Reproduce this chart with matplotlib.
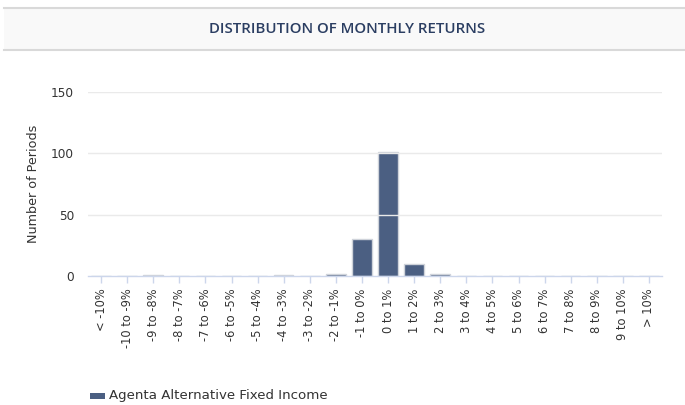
import matplotlib
matplotlib.use("Agg")
import matplotlib.pyplot as plt
from matplotlib.patches import Rectangle

categories = ["< -10%", "-10 to -9%", "-9 to -8%", "-8 to -7%", "-7 to -6%", "-6 to -5%",
              "-5 to -4%", "-4 to -3%", "-3 to -2%", "-2 to -1%", "-1 to 0%", "0 to 1%",
              "1 to 2%", "2 to 3%", "3 to 4%", "4 to 5%", "5 to 6%", "6 to 7%", "7 to 8%",
              "8 to 9%", "9 to 10%", "> 10%"]
values = [0, 0, 1, 0, 0, 0, 0, 1, 0, 2, 30, 101, 10, 2, 0, 0, 0, 0, 0, 0, 0, 0]
series_name = "Agenta Alternative Fixed Income"
yticks = [0, 50, 100, 150]

W, H = 685, 405
fig = plt.figure(figsize=(W / 100, H / 100), dpi=100)
fig.patch.set_facecolor("white")

# title band
band = Rectangle((4 / W, 1 - 50 / H), 1 - 4 / W, 42 / H, transform=fig.transFigure,
                 facecolor="#f9f9f9", edgecolor="none")
fig.add_artist(band)
for yy in (8, 50):
    fig.add_artist(plt.Line2D([4 / W, 1], [1 - yy / H] * 2, transform=fig.transFigure,
                              color="#d9d9d9", lw=1.5))
fig.text(347 / W, 1 - 29 / H, "DISTRIBUTION OF MONTHLY RETURNS", ha="center", va="center",
         fontsize=10.8, fontweight="semibold", color="#2b3e62", family="Open Sans")

ax = fig.add_axes([88 / W, (H - 276) / H, (662 - 88) / W, (276 - 92) / H])
n = len(categories)
x = list(range(n))
bar_color = "#4b5f82"
ax.bar(x, values, width=0.75, color=bar_color, edgecolor="#cfd3da", linewidth=1, zorder=2)
ax.set_xlim(-0.5, n - 0.5)
ax.set_ylim(0, 150)
ax.set_yticks(yticks)
ax.set_yticklabels([str(v) for v in yticks], fontsize=8.7, color="#333333", family="DejaVu Sans")
ax.set_xticks(x)
ax.set_xticklabels(categories, rotation=90, fontsize=8.3, color="#333333", family="DejaVu Sans")
ax.tick_params(axis="y", length=0, pad=10)
ax.tick_params(axis="x", length=5, width=1, color="#ccd6eb", pad=4)
for yv in yticks[1:]:
    ax.axhline(yv, color="#eaeaea", lw=1, zorder=3)
for s in ("top", "right", "left"):
    ax.spines[s].set_visible(False)
ax.spines["bottom"].set_color("#ccd6eb")
ax.spines["bottom"].set_linewidth(1)
ax.spines["bottom"].set_zorder(4)
ax.set_ylabel("Number of Periods", fontsize=9.2, color="#333333", family="DejaVu Sans", labelpad=8)

# legend
fig.add_artist(Rectangle((90 / W, 1 - 399 / H), 15 / W, 6 / H, transform=fig.transFigure,
                         facecolor=bar_color, edgecolor="none"))
fig.text(109 / W, 1 - 396 / H, series_name, ha="left", va="center", fontsize=9.6,
         color="#333333", family="DejaVu Sans")

fig.savefig("out.png", dpi=100)
